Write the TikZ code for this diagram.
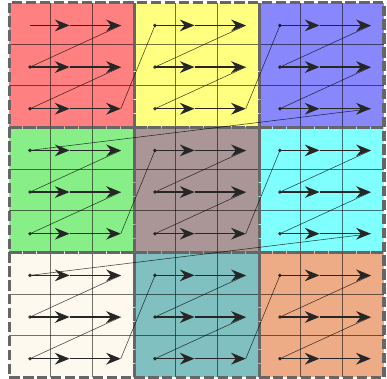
\documentclass[tikz,border=0pt]{standalone}
\usetikzlibrary{arrows.meta}

\definecolor{blkred}{RGB}{255,128,128}
\definecolor{blkyellow}{RGB}{255,255,128}
\definecolor{blkblue}{RGB}{136,136,252}
\definecolor{blkgreen}{RGB}{136,238,136}
\definecolor{blkbrown}{RGB}{170,150,150}
\definecolor{blkcyan}{RGB}{128,255,255}
\definecolor{blkcream}{RGB}{253,249,238}
\definecolor{blkteal}{RGB}{128,192,192}
\definecolor{blkorange}{RGB}{238,172,134}

\tikzset{
  blockedge/.style={draw=black!60, line width=2.2pt, dash pattern=on 7pt off 2.5pt},
  cellline/.style={draw=black, draw opacity=0.55, line width=0.6pt},
  scanrow/.style={draw=black!85, line width=0.9pt, -{Stealth[length=10pt,width=8pt]}},
  jumpline/.style={draw=black, draw opacity=0.7, line width=0.4pt},
  jumpdot/.style={circle, fill=black, fill opacity=0.75, inner sep=0pt, minimum size=2.6pt},
}

\begin{document}
\begin{tikzpicture}
    \useasboundingbox (-0.22,0.06) rectangle (9.07,-9.03);
    % blocks in scan order, with the points of their three rows
    \foreach \clr/\b in {blkred/0,blkyellow/1,blkblue/2,blkgreen/3,blkbrown/4,blkcyan/5,blkcream/6,blkteal/7,blkorange/8} {
        \pgfmathsetmacro\bx{3*mod(\b,3)}
        \pgfmathsetmacro\by{-3*floor(\b/3)}
        \fill[\clr] (\bx,\by) rectangle ++(3,-3);
        \foreach \r in {1,2,3} {
            \coordinate (s\b-\r) at (\bx+0.5,\by+0.45-\r);
            \coordinate (m\b-\r) at (\bx+1.45,\by+0.45-\r);
            \coordinate (e\b-\r) at (\bx+2.68,\by+0.45-\r);
        }
    }
    \foreach \i in {1,2,4,5,7,8} {
        \draw[cellline] (\i,0) -- (\i,-9);
        \draw[cellline] (0,-\i) -- (9,-\i);
    }
    \foreach \bx in {0,3,6} {
        \foreach \by in {0,-3,-6} {
            \draw[blockedge] (\bx,\by) rectangle ++(3,-3);
        }
    }
    % jumps back to the next row start
    \foreach \b in {0,...,8} {
        \foreach \r/\n in {1/2,2/3} {
            \draw[jumpline] (e\b-\r) -- (s\b-\n);
            \node[jumpdot] (d\b-\n) at (s\b-\n) {};
        }
    }
    \foreach \b/\n in {0/1,1/2,2/3,3/4,4/5,5/6,6/7,7/8} {
        \draw[jumpline] (e\b-3) -- (s\n-1);
        \node[jumpdot] (d\n-1) at (s\n-1) {};
    }
    % scan rows
    \foreach \b in {0,...,8} {
        \foreach \r in {1,2,3} {
            \draw[scanrow] (s\b-\r) -- (m\b-\r);
            \draw[scanrow] (m\b-\r) -- (e\b-\r);
        }
    }
\end{tikzpicture}
\end{document}
